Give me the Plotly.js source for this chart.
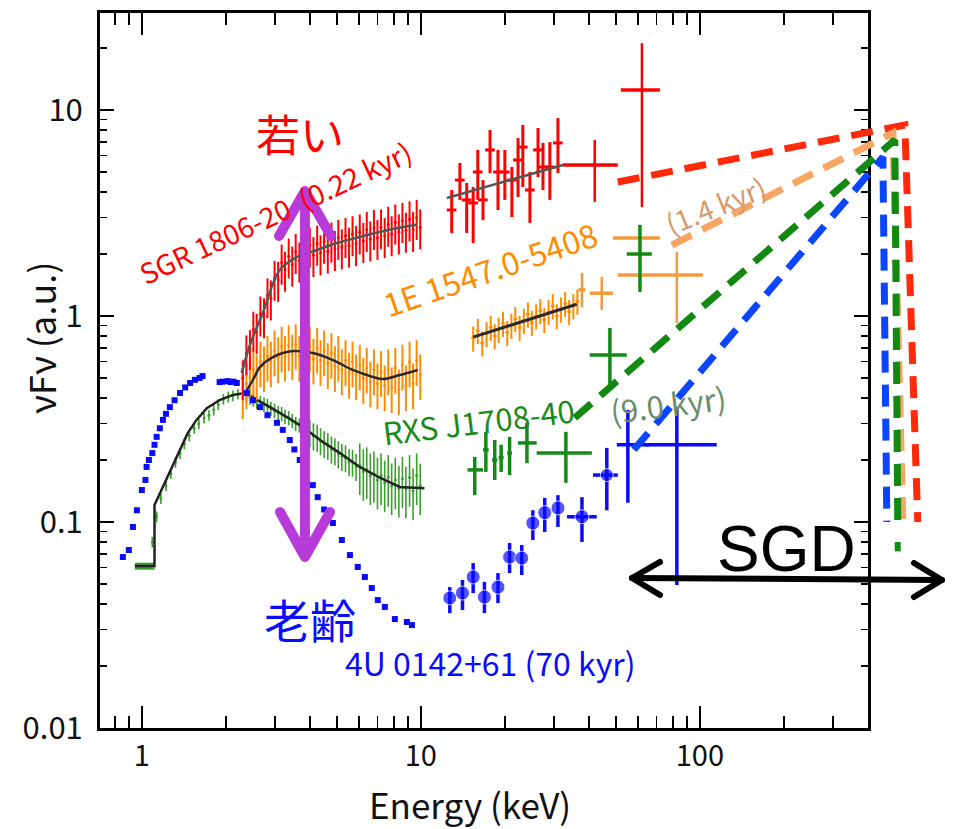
<!DOCTYPE html>
<html><head><meta charset="utf-8">
<script src="https://cdn.plot.ly/plotly-3.0.1.min.js"></script>
<style>
html,body{margin:0;padding:0;background:#fff}
.shapelayer path{stroke-linecap:round;stroke-linejoin:round}
</style>
</head><body><div id="chart" style="width:955px;height:829px"></div>
<script>
// ---------------- data (energy keV, nuFnu a.u.) ----------------
const softE = [2.30,2.37,2.44,2.51,2.58,2.66,2.74,2.82,2.90,2.99,3.08,3.17,3.26,3.36,3.46,3.56,3.67,3.78,3.89,4.00,4.12,4.25,4.37,4.50,4.64,4.78,4.92,5.06,5.21,5.37,5.53,5.69,5.86,6.04,6.22,6.40,6.59,6.79,6.99,7.20,7.42,7.64,7.86,8.10,8.34,8.59,8.84,9.11,9.38,9.66,9.95];

// SGR 1806-20
const sgrSoftF = [0.50,0.66,0.70,0.86,0.84,1.02,1.00,1.25,1.22,1.52,1.50,1.82,1.68,1.95,1.78,2.05,1.86,2.12,1.92,2.20,1.98,2.25,2.02,2.30,2.06,2.33,2.12,2.40,2.16,2.45,2.20,2.50,2.24,2.55,2.32,2.62,2.36,2.68,2.40,2.70,2.45,2.78,2.50,2.85,2.55,2.90,2.60,2.95,2.62,3.00,2.70];
const sgrSoftRelErr = 0.22;
const sgrModelE = [2.28,2.44,2.71,3.12,3.59,4.24,5.00,6.04,7.55,9.68];
const sgrModelF = [0.529,0.723,1.03,1.67,1.93,2.09,2.26,2.42,2.61,2.77];
const sgrHardE   = [12.9,13.8,14.6,15.4,16.0,16.7,17.7,18.9,20.0,21.2,22.3,23.2,24.6,26.3,27.4,29.0,31.0];
const sgrHardF   = [3.27,4.57,3.66,3.54,5.00,3.66,6.40,5.00,5.00,4.57,5.72,6.61,4.09,6.40,5.29,5.29,6.92];
const sgrHardHi  = [4.09,5.53,4.42,4.23,6.40,4.57,8.00,6.40,6.40,5.29,7.31,8.46,5.00,8.18,6.92,6.99,9.14];
const sgrHardLo  = [2.53,3.66,2.53,2.26,3.66,2.92,4.94,3.27,3.66,3.02,3.78,4.23,2.83,4.73,4.09,3.66,4.94];
const sgrBigE  = [42.0,62.0];
const sgrBigF  = [5.41,12.5];
const sgrBigHi = [7.15,21.1];
const sgrBigLo = [3.58,3.38];
const sgrBigElo = [32.3,52.1];
const sgrBigEhi = [50.8,71.9];
const sgrHardModelE = [12.4,32.3];
const sgrHardModelF = [3.74,5.41];

// 1E 1547.0-5408
const e1547SoftF = [0.42,0.47,0.50,0.55,0.52,0.60,0.57,0.64,0.60,0.68,0.63,0.71,0.64,0.72,0.65,0.73,0.64,0.72,0.63,0.71,0.62,0.70,0.61,0.68,0.59,0.66,0.57,0.64,0.55,0.61,0.53,0.60,0.52,0.58,0.50,0.56,0.48,0.55,0.47,0.54,0.46,0.55,0.45,0.56,0.44,0.58,0.46,0.60,0.47,0.61,0.52];
const e1547SoftRelErr = 0.25;
const e1547ModelE = [2.38,2.50,2.65,2.95,3.48,4.10,4.84,5.70,6.73,7.31,8.41,9.75];
const e1547ModelF = [0.437,0.489,0.565,0.632,0.676,0.661,0.611,0.547,0.506,0.494,0.517,0.547];
const e1547HardE = [15.4,16.0,16.6,17.2,17.8,18.4,19.0,19.7,20.4,21.1,21.8,22.6,23.4,24.2,25.0,25.9,26.8,27.7,28.7,29.7,30.7,31.8,32.9,34.0,35.2,36.4];
const e1547HardF = [0.78,0.85,0.74,0.82,0.88,0.80,0.86,0.92,0.83,0.90,0.97,0.88,0.95,1.02,0.93,1.00,1.06,0.96,1.05,1.12,1.00,1.08,1.15,1.05,1.12,1.18];
const e1547HardRelErr = 0.14;
const e1547HardModelE = [15.4,36.2];
const e1547HardModelF = [0.79,1.14];
const e1547BigE   = [37.8,44.5,61.0,82.7];
const e1547BigF   = [1.34,1.29,2.39,1.58];
const e1547BigHi  = [1.62,1.55,2.39,2.05];
const e1547BigLo  = [1.10,1.07,2.39,0.925];
const e1547BigElo = [36.7,40.3,48.8,50.8];
const e1547BigEhi = [38.9,48.8,71.9,102.5];

// RXS J1708-40
const rxsLowE = [1.09,1.13,1.17,1.22,1.27,1.32,1.37,1.42,1.48,1.54,1.60,1.67,1.74,1.81,1.88,1.96,2.04,2.12,2.21];
const rxsSoftF = [0.080,0.106,0.130,0.150,0.172,0.195,0.215,0.240,0.262,0.285,0.300,0.320,0.330,0.350,0.372,0.395,0.405,0.410,0.418,
  0.420,0.410,0.402,0.395,0.385,0.380,0.372,0.366,0.355,0.348,0.340,0.335,0.325,0.320,0.310,0.300,0.295,0.288,0.280,0.272,0.262,0.258,0.248,0.240,0.235,0.226,0.222,0.214,0.208,0.205,0.196,0.195,0.186,0.188,0.176,0.180,0.168,0.172,0.160,0.168,0.155,0.165,0.150,0.160,0.146,0.162,0.145,0.165,0.142,0.168,0.150];
const rxsSoftRelErr = [0.06,0.06,0.06,0.06,0.06,0.06,0.06,0.06,0.06,0.06,0.06,0.06,0.06,0.06,0.06,0.06,0.06,0.06,0.06,
  0.08,0.08,0.08,0.08,0.08,0.08,0.08,0.08,0.08,0.08,0.08,0.08,0.08,0.08,0.08,0.08,0.08,0.08,0.08,
  0.15,0.15,0.15,0.15,0.15,0.15,0.15,0.15,0.15,0.15,0.15,0.15,0.15,0.15,
  0.28,0.28,0.28,0.28,0.28,0.28,0.28,0.28,0.28,0.28,0.28,0.28,0.28,0.28,0.28,0.28,0.28,0.28];
const rxsFirstE = [1.02], rxsFirstF = [0.061], rxsFirstElo = [0.944], rxsFirstEhi = [1.11];
const rxsModelE = [0.944,1.11,1.11,1.21,1.28,1.37,1.46,1.57,1.71,1.90,2.12,2.34,2.58,2.88,3.31,3.78,4.35,5.13,6.04,7.13,8.41,10.3];
const rxsModelF = [0.0611,0.0611,0.121,0.155,0.185,0.224,0.270,0.313,0.357,0.391,0.414,0.423,0.391,0.361,0.323,0.289,0.250,0.216,0.185,0.164,0.148,0.146];
const rxsHardE   = [15.6,17.1,18.4,19.4,20.8,24.0,33.1,47.6,61.0];
const rxsHardF   = [0.179,0.224,0.200,0.205,0.216,0.242,0.216,0.647,2.00];
const rxsHardHi  = [0.207,0.274,0.250,0.237,0.259,0.303,0.274,0.875,2.77];
const rxsHardLo  = [0.135,0.175,0.160,0.175,0.169,0.193,0.155,0.452,1.31];
const rxsHardElo = [14.7,16.7,18.0,19.0,20.4,22.3,26.0,40.3,54.7];
const rxsHardEhi = [16.7,17.5,18.8,19.8,21.2,26.0,41.0,54.7,67.3];

// 4U 0142+61
const u0142SoftE = [0.855,0.898,0.929,0.960,1.00,1.03,1.04,1.06,1.09,1.11,1.13,1.16,1.19,1.22,1.26,1.31,1.37,1.43,1.49,1.55,1.61,1.65,1.90,1.95,2.03,2.08,2.13,2.19,2.38,2.50,2.65,2.82,3.05,3.20,3.39,3.52,3.68,3.88,4.10,4.27,4.50,4.84,5.21,5.57,5.94,6.30,6.67,7.01,7.43,8.07,8.91,9.29];
const u0142SoftF = [0.0676,0.0731,0.0946,0.114,0.143,0.160,0.185,0.200,0.216,0.237,0.259,0.285,0.313,0.335,0.361,0.390,0.423,0.450,0.473,0.490,0.500,0.511,0.478,0.480,0.483,0.478,0.480,0.473,0.423,0.390,0.361,0.330,0.303,0.280,0.250,0.225,0.200,0.175,0.151,0.132,0.115,0.0989,0.0818,0.0691,0.0605,0.0541,0.0478,0.0418,0.0387,0.0338,0.0327,0.0316];
const u0142HardE   = [12.7,14.1,15.4,16.9,18.9,20.8,23.0,25.2,27.8,31.0,37.8,46.4,55.2,82.7];
const u0142HardF   = [0.0428,0.0452,0.0541,0.0432,0.0483,0.0676,0.0668,0.0989,0.111,0.117,0.106,0.169,0.237,0.237];
const u0142HardHi  = [0.0483,0.0523,0.0632,0.0512,0.0565,0.0791,0.0773,0.114,0.131,0.135,0.132,0.229,0.350,0.361];
const u0142HardLo  = [0.0361,0.0374,0.0452,0.0361,0.0404,0.0565,0.0553,0.0818,0.0894,0.0946,0.0800,0.114,0.124,0.0494];
const u0142HardElo = [12.7,14.1,15.4,16.9,18.9,20.8,23.0,25.2,27.8,31.0,33.4,41.4,50.4,63.5];
const u0142HardEhi = [12.7,14.1,15.4,16.9,18.9,20.8,23.0,25.2,27.8,31.0,42.7,50.8,66.2,115];
const u0142HardSym = [14,14,14,14,14,14,14,14,14,14,14,13,0,0];

// Extrapolations into the SGD band
const sgdRedE = [50.8,543,604],    sgdRedF = [4.47,8.46,0.100];
const sgdOrangeE = [79.4,492,534], sgdOrangeF = [2.21,7.73,0.102];
const sgdGreenE = [35.6,500,512],  sgdGreenF = [0.320,7.15,0.102];
const sgdGreenTipE = [512,512],    sgdGreenTipF = [0.080,0.072];
const sgdBlueE = [58.0,453,468],   sgdBlueF = [0.224,5.91,0.100];

// ---------------- helpers ----------------
const FONT = '"Noto Sans CJK JP","Noto Sans",sans-serif';
const RED='#ff0000', ORANGE='#ff8c00', GREEN='#3a9e2c', DGREEN='#138a13', BLUE='#0a0aff';
function asym(F, hi, lo){return {type:'data',symmetric:false,array:hi.map((h,i)=>h-F[i]),arrayminus:lo.map((l,i)=>F[i]-l)};}
function rel(F, r){const a=F.map((f,i)=>f*(Array.isArray(r)?r[i]:r));return {type:'data',array:a};}
function pts(x,y,color,size,extra){return Object.assign({x,y,type:'scatter',mode:'markers',marker:{color,size:size,symbol:'circle'},hoverinfo:'skip'},extra||{});}
function line(x,y,color,width,extra){return Object.assign({x,y,type:'scatter',mode:'lines',line:{color,width},hoverinfo:'skip'},extra||{});}
function eb(e,color,th){return Object.assign(e,{color,thickness:th,width:0});}

const traces = [
  // RXS soft
  pts(rxsLowE.concat(softE), rxsSoftF, GREEN, 3, {error_y: eb(rel(rxsSoftF, rxsSoftRelErr), GREEN, 1.6)}),
  pts(rxsFirstE, rxsFirstF, GREEN, 2, {error_x: eb(asym(rxsFirstE, rxsFirstEhi, rxsFirstElo), GREEN, 7)}),
  line(rxsModelE, rxsModelF, '#222', 2.5),
  // 1E 1547 soft
  pts(softE, e1547SoftF, ORANGE, 3, {error_y: eb(rel(e1547SoftF, e1547SoftRelErr), ORANGE, 2)}),
  line(e1547ModelE, e1547ModelF, '#2a2a2a', 2.5, {line:{color:'#2a2a2a',width:2.5,shape:'spline'}}),
  // SGR soft
  pts(softE, sgrSoftF, RED, 3, {error_y: eb(rel(sgrSoftF, sgrSoftRelErr), RED, 2)}),
  line(sgrModelE, sgrModelF, '#555', 2.5, {line:{color:'#555',width:2.5,shape:'spline'}}),
  // 4U soft
  pts(u0142SoftE, u0142SoftF, BLUE, 6, {marker:{color:BLUE,size:6,symbol:'square'}}),
  // hard: SGR
  pts(sgrHardE, sgrHardF, RED, 1, {error_y: eb(asym(sgrHardF, sgrHardHi, sgrHardLo), RED, 3), error_x: eb({type:'percent',value:4}, RED, 3)}),
  line(sgrHardModelE, sgrHardModelF, '#555', 2.5),
  pts(sgrBigE, sgrBigF, RED, 1, {error_y: eb(asym(sgrBigF, sgrBigHi, sgrBigLo), RED, 2.5), error_x: eb(asym(sgrBigE, sgrBigEhi, sgrBigElo), RED, 3.5)}),
  // hard: 1E 1547
  pts(e1547HardE, e1547HardF, ORANGE, 3, {error_y: eb(rel(e1547HardF, e1547HardRelErr), ORANGE, 2), error_x: eb({type:'percent',value:1.5}, ORANGE, 2)}),
  line(e1547HardModelE, e1547HardModelF, '#2a2a2a', 3),
  pts(e1547BigE, e1547BigF, '#f39a3a', 1, {error_y: eb(asym(e1547BigF, e1547BigHi, e1547BigLo), '#f39a3a', 2.5), error_x: eb(asym(e1547BigE, e1547BigEhi, e1547BigElo), '#f39a3a', 3.5)}),
  // hard: RXS
  pts(rxsHardE, rxsHardF, DGREEN, 1, {error_y: eb(asym(rxsHardF, rxsHardHi, rxsHardLo), DGREEN, 3.5), error_x: eb(asym(rxsHardE, rxsHardEhi, rxsHardElo), DGREEN, 3.5)}),
  // hard: 4U
  pts(u0142HardE, u0142HardF, BLUE, u0142HardSym, {error_y: eb(asym(u0142HardF, u0142HardHi, u0142HardLo), BLUE, 3.5), error_x: eb(asym(u0142HardE, u0142HardEhi, u0142HardElo), BLUE, 3.5)}),
  // SGD extrapolations (wider invisible axis so they may leave the frame)
  line(sgdRedE, sgdRedF, '#ff2a0a', 7, {xaxis:'x2', line:{color:'#ff2a0a',width:7,dash:'22px,12px'}}),
  line(sgdOrangeE, sgdOrangeF, '#f6a562', 7, {xaxis:'x2', line:{color:'#f6a562',width:7,dash:'22px,12px'}}),
  line(sgdGreenE, sgdGreenF, '#128a12', 7, {xaxis:'x2', line:{color:'#128a12',width:7,dash:'22px,12px'}}),
  line(sgdGreenTipE, sgdGreenTipF, '#128a12', 6, {xaxis:'x2'}),
  line(sgdBlueE, sgdBlueF, '#0b45ff', 7, {xaxis:'x2', line:{color:'#0b45ff',width:7,dash:'22px,12px'}})
];

// pixel -> paper helpers for decorations
const L=100, R=940, T=13, B=728;
const PX = p => (p-L)/(R-L);
const PY = p => (B-p)/(B-T);
function pth(pts){return pts.map((p,i)=>(i?'L':'M')+PX(p[0]).toFixed(4)+','+PY(p[1]).toFixed(4)).join(' ');}
function ann(text, px, py, size, color, angle, family){return {text, x:PX(px), y:PY(py), xref:'paper', yref:'paper', showarrow:false, font:{size, color, family: family||FONT}, textangle: angle||0, xanchor:'center', yanchor:'middle'};}

const PURPLE='#b83bd9';
const shapes = [
  {type:'path', xref:'paper', yref:'paper', path: pth([[305,195],[305,552]]), line:{color:PURPLE,width:10}},
  {type:'path', xref:'paper', yref:'paper', path: pth([[279,236],[305,191],[331,236]]), line:{color:PURPLE,width:10}},
  {type:'path', xref:'paper', yref:'paper', path: pth([[280,512],[305,557],[330,512]]), line:{color:PURPLE,width:10}},
  {type:'path', xref:'paper', yref:'paper', path: pth([[632,578],[942,580]]), line:{color:'#000',width:6}},
  {type:'path', xref:'paper', yref:'paper', path: pth([[660,562],[632,578],[660,595]]), line:{color:'#000',width:6}},
  {type:'path', xref:'paper', yref:'paper', path: pth([[914,563],[942,580],[914,597]]), line:{color:'#000',width:6}}
];

const annotations = [
  ann('νFν (a.u.)', 40, 338, 36, '#111', -90),
  ann('Energy (keV)', 470, 803, 35, '#111'),
  ann('若い', 300, 133, 44, RED),
  ann('老齢', 310, 618, 46, BLUE),
  ann('SGR 1806-20  (0.22 kyr)', 275, 212, 28, RED, -25),
  ann('1E 1547.0-5408', 490, 268, 32, ORANGE, -19),
  ann('(1.4 kyr)', 715, 205, 28, '#d8996a', -22),
  ann('RXS J1708-40', 478, 420, 31, '#1a8a1a', -7),
  ann('(9.0 kyr)', 668, 404, 31, '#6b8d6b', -7),
  ann('4U 0142+61 (70 kyr)', 490, 662, 32, BLUE),
  ann('SGD', 786, 549, 64, '#000', 0, '"Liberation Sans",Arial,sans-serif')
];

const axisCommon = {
  type:'log', showline:true, linecolor:'#000', linewidth:3, mirror:'ticks',
  ticks:'inside', tickcolor:'#000', tickwidth:1.5, dtick:1, exponentformat:'none',
  showgrid:false, zeroline:false, tickfont:{size:31, color:'#111', family:FONT}
};

const layout = {
  width:955, height:829,
  margin:{l:L, r:955-R, t:T, b:829-B},
  paper_bgcolor:'#fff', plot_bgcolor:'rgba(0,0,0,0)',
  showlegend:false,
  font:{family:FONT, color:'#111'},
  xaxis: Object.assign({}, axisCommon, {
    domain:[0, (868-L)/(R-L)], range:[-0.15, -0.15 + (868-L)/279], anchor:'y',
    ticklen:22, ticklabelstandoff:0, tickfont:{size:29, color:'#111', family:FONT},
    minor:{ticks:'inside', ticklen:12, tickwidth:1.5, tickcolor:'#000', dtick:'D1', showgrid:false}
  }),
  xaxis2: {type:'log', domain:[0,1], range:[-0.15, -0.15 + (R-L)/279], anchor:'y', visible:false, showgrid:false, zeroline:false},
  yaxis: Object.assign({}, axisCommon, {
    range:[-2, -2 + (B-T)/206], anchor:'x',
    ticklen:14, ticklabelstandoff:8,
    minor:{ticks:'inside', ticklen:7, tickwidth:1.5, tickcolor:'#000', dtick:'D1', showgrid:false}
  }),
  shapes, annotations
};

Plotly.newPlot('chart', traces, layout, {displayModeBar:false, staticPlot:true});
</script></body></html>
